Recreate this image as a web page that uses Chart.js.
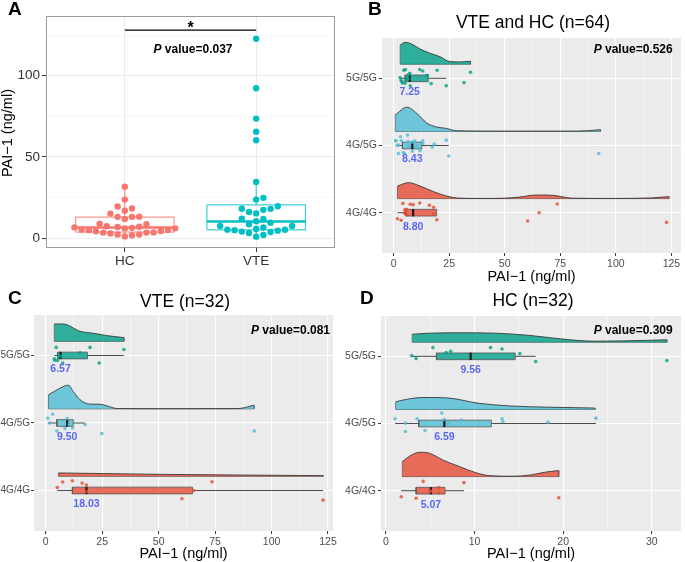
<!DOCTYPE html>
<html>
<head>
<meta charset="utf-8">
<script src="https://cdn.jsdelivr.net/npm/chart.js@4.4.1/dist/chart.umd.min.js"></script>
<style>
html,body{margin:0;padding:0;background:#fff;}
#wrap{position:relative;width:685px;height:562px;overflow:hidden;background:#fff;}
canvas{position:absolute;}
</style>
</head>
<body>
<div id="wrap">
<canvas id="cA" width="340" height="280" style="left:0px;top:0px"></canvas>
<canvas id="cC" width="340" height="282" style="left:0px;top:280px"></canvas>
<canvas id="cD" width="345" height="282" style="left:340px;top:280px"></canvas>
<canvas id="cB" width="345" height="286" style="left:340px;top:0px"></canvas>
</div>
<script>
// ================= DATA =================
const GENO = ["4G/4G", "4G/5G", "5G/5G"];       // y categories (bottom -> top)
const GROUPS_A = ["HC", "VTE"];                  // panel A categories

// ---- VTE patients (panel C), PAI-1 ng/ml
const vte_4G4G = [5.1, 7.5, 11.8, 16.1, 18.0, 18.06, 60.3, 65.5, 73.6, 122.8];
const vte_4G5G = [0.9, 1.9, 3.1, 4.9, 8.5, 9.5, 10.4, 11.9, 17.4, 24.8, 92.3];
const vte_5G5G = [3.8, 4.0, 4.6, 5.2, 5.64, 6.57, 7.5, 15.2, 19.6, 23.7, 34.6];
// vertical jitter of each point (in category steps, positive = below the line)
const vte_4G4G_jit = [-0.045, -0.125, -0.144, -0.11, -0.08, 0.015, 0.123, 0.0, -0.13, 0.143];
const vte_4G5G_jit = [-0.07, 0.0, -0.13, 0.12, 0.083, -0.065, 0.02, 0.074, 0.024, 0.157, 0.12];
const vte_5G5G_jit = [0.05, 0.07, -0.12, 0.074, 0.0, 0.01, 0.11, -0.04, -0.12, 0.11, -0.09];

// ---- healthy controls (panel D)
const hc_4G4G = [1.73, 3.4, 4.2, 4.9, 5.07, 5.96, 6.0, 8.8, 19.5];
const hc_4G5G = [1.03, 2.2, 2.2, 3.5, 4.4, 6.3, 6.59, 7.0, 8.5, 13.1, 13.2, 18.3, 23.7];
const hc_5G5G = [2.9, 3.4, 5.3, 6.8, 7.3, 11.8, 13.1, 15.1, 16.9, 31.7];
const hc_4G4G_jit = [0.09, 0.113, -0.138, 0.0, 0.01, -0.045, 0.03, -0.12, 0.104];
const hc_4G5G_jit = [-0.07, -0.006, 0.12, -0.07, 0.104, -0.155, -0.06, 0.005, -0.05, -0.07, -0.03, -0.02, -0.08];
const hc_5G5G_jit = [-0.01, 0.034, -0.13, -0.055, -0.074, -0.13, -0.108, -0.04, 0.079, 0.064];

// ---- box statistics [lower whisker, Q1, median, Q3, upper whisker]
const boxA_HC  = [1.03, 3.7, 6.5, 12.9, 31.7];
const boxA_VTE = [0.9, 5.1, 10.2, 20.5, 34.6];
const boxB_4G4G = [1.73, 5.5, 8.80, 19.4, 19.5];
const boxB_4G5G = [0.9, 4.0, 8.43, 12.7, 24.8];
const boxB_5G5G = [2.9, 5.2, 7.25, 15.6, 23.7];
const boxC_4G4G = [5.1, 11.8, 18.03, 65.0, 122.8];
const boxC_4G5G = [0.9, 4.9, 9.50, 12.2, 17.4];
const boxC_5G5G = [3.8, 5.2, 6.57, 18.5, 34.6];
const boxD_4G4G = [1.73, 3.4, 5.07, 6.67, 8.8];
const boxD_4G5G = [1.03, 3.7, 6.59, 11.9, 23.7];
const boxD_5G5G = [2.9, 5.7, 9.56, 14.6, 16.9];

// ---- half-violin density outlines [PAI-1, height in category steps]
const densB_4G4G = [[1.8,0.187],[6.7,0.237],[11.9,0.187],[17.9,0.104],[23.8,0.039],[29.8,0.006],[40,0.002],[50,0.006],[56.5,0.022],[64,0.053],[71.4,0.049],[80.4,0.006],[98,0.002],[116,0.01],[123.8,0.03]];
const densB_4G5G = [[0.8,0.247],[6.0,0.36],[10.4,0.27],[14.9,0.125],[19.4,0.065],[23.8,0.044],[28.3,0.01],[40,0.004],[60,0.003],[83.3,0.004],[89.3,0.015],[93.0,0.025]];
const densB_5G5G = [[3.0,0.287],[5.2,0.326],[8.9,0.287],[11.9,0.227],[16.4,0.163],[20.8,0.113],[25.3,0.039],[29.8,0.034],[34.6,0.044]];
const densC_4G4G = [[5.6,0.05],[49.1,0.03],[122.8,0.01]];
const densC_4G5G = [[1.2,0.208],[4.9,0.28],[8.5,0.34],[10.0,0.35],[12.2,0.257],[15.2,0.134],[19.6,0.07],[24,0.068],[27,0.045],[31.4,0.005],[50,0.002],[80,0.003],[86,0.006],[88.9,0.025],[92.2,0.055]];
const densC_5G5G = [[3.8,0.257],[7.8,0.257],[15.2,0.149],[21.1,0.119],[27,0.085],[34.6,0.055]];
const densD_4G4G = [[1.85,0.223],[2.7,0.307],[3.8,0.362],[4.9,0.348],[6.4,0.248],[8.3,0.149],[10.1,0.06],[11.6,0.015],[14.2,0.005],[16.4,0.025],[17.9,0.064],[19.5,0.089]];
const densD_4G5G = [[1.1,0.113],[2.3,0.149],[4.2,0.177],[6.8,0.172],[10.5,0.09],[14.2,0.05],[17.9,0.034],[21.6,0.025],[23.6,0.02]];
const densD_5G5G = [[2.96,0.119],[4.9,0.134],[8.6,0.14],[12.3,0.134],[16,0.104],[19.7,0.05],[23.4,0.015],[27.1,0.02],[31.7,0.035]];

// ---- ticks
const ticksA_y = [0, 50, 100];
const minorA_y = [25, 75, 125];
const ticksBC_x = [0, 25, 50, 75, 100, 125];
const minorBC_x = [12.5, 37.5, 62.5, 87.5, 112.5];
const ticksD_x = [0, 10, 20, 30];
const minorD_x = [5, 15, 25];

// ---- texts
const pValues = {A: "0.037", B: "0.526", C: "0.081", D: "0.309"};
const titles = {B: "VTE and HC (n=64)", C: "VTE (n=32)", D: "HC (n=32)"};
const AXIS_TITLE = "PAI\u22121 (ng/ml)";

// ================= STYLE =================
const FONT = "'Liberation Sans', Arial, Helvetica, sans-serif";
const GENO_FILL = ["rgba(230,75,53,0.8)", "rgba(77,187,213,0.8)", "rgba(0,160,135,0.8)"];
const A_COL = ["#F8766D", "#00BFC4"];
const A_COL_SOFT = ["rgba(248,118,109,0.75)", "rgba(0,191,196,0.75)"];
const MED_LABEL = "#5A68F0";

function tickList(major, minor) {
  return major.map(v => ({value: v})).concat(minor.map(v => ({value: v, minor: true})))
    .sort((a, b) => a.value - b.value);
}

function pText(ctx, value, xRight, y, size) {
  ctx.save();
  ctx.textBaseline = 'middle';
  ctx.textAlign = 'left';
  ctx.fillStyle = '#000';
  const f1 = "italic bold " + size + "px " + FONT;
  const f2 = "bold " + size + "px " + FONT;
  const s2 = " value=" + value;
  ctx.font = f1; const w1 = ctx.measureText("P").width;
  ctx.font = f2; const w2 = ctx.measureText(s2).width;
  const x0 = xRight - w1 - w2;
  ctx.font = f1; ctx.fillText("P", x0, y);
  ctx.font = f2; ctx.fillText(s2, x0 + w1, y);
  ctx.restore();
}
function pTextCenter(ctx, value, xc, y, size) {
  ctx.save();
  const f1 = "italic bold " + size + "px " + FONT;
  const f2 = "bold " + size + "px " + FONT;
  ctx.font = f1; const w1 = ctx.measureText("P").width;
  ctx.font = f2; const w2 = ctx.measureText(" value=" + value).width;
  ctx.restore();
  pText(ctx, value, xc + (w1 + w2) / 2, y, size);
}
function text(ctx, s, x, y, font, color, align, baseline) {
  ctx.save();
  ctx.font = font; ctx.fillStyle = color || '#000';
  ctx.textAlign = align || 'center'; ctx.textBaseline = baseline || 'middle';
  ctx.fillText(s, x, y);
  ctx.restore();
}

Chart.defaults.font.family = FONT;

// ================= RAINCLOUD PANELS =================
function rainDatasets(groups) {
  const ds = [];
  const hh = 0.05, off = 0.21;
  groups.forEach(g => {
    const c = g.cat, col = GENO_FILL[c - 1], base = c + off;
    const [lo, q1, med, q3, hi] = g.box;
    ds.push({data: g.vals.map((v, i) => ({x: v, y: c - g.jit[i]})), showLine: false,
      pointRadius: 1.8, pointBackgroundColor: col, pointBorderWidth: 0, order: 0});
    ds.push({data: [{x: med, y: c - hh - 0.004}, {x: med, y: c + hh + 0.004}],
      borderColor: '#1a1a1a', borderWidth: 2.2, order: 1});
    ds.push({data: [{x: q1, y: c - hh}, {x: q3, y: c - hh}, {x: q3, y: c + hh}, {x: q1, y: c + hh}, {x: q1, y: c - hh}],
      borderColor: '#555', borderWidth: 0.8, order: 2});
    ds.push({data: [{x: q1, y: c + hh}, {x: q3, y: c + hh}], fill: {value: c - hh},
      backgroundColor: col, borderColor: 'rgba(0,0,0,0)', borderWidth: 0, order: 3});
    ds.push({data: [{x: lo, y: c}, {x: q1, y: c}], borderColor: '#4d4d4d', borderWidth: 1, order: 4});
    ds.push({data: [{x: q3, y: c}, {x: hi, y: c}], borderColor: '#4d4d4d', borderWidth: 1, order: 4});
    ds.push({data: g.dens.map(p => ({x: p[0], y: base + p[1]})), cubicInterpolationMode: 'monotone',
      fill: {value: base}, backgroundColor: col, borderColor: '#3a3a3a', borderWidth: 0.9, order: 5});
    const d0 = g.dens[0], d1 = g.dens[g.dens.length - 1];
    ds.push({data: [{x: d1[0], y: base + d1[1]}, {x: d1[0], y: base}, {x: d0[0], y: base}, {x: d0[0], y: base + d0[1]}],
      borderColor: '#4a4a4a', borderWidth: 0.8, order: 5});
  });
  return ds;
}

function makeRain(id, cfg) {
  const plug = {
    id: 'rain' + id,
    beforeDraw(chart) {
      const {ctx, chartArea: a} = chart;
      ctx.save(); ctx.fillStyle = '#EBEBEB';
      ctx.fillRect(a.left, a.top, a.right - a.left, a.bottom - a.top); ctx.restore();
    },
    afterDraw(chart) {
      const {ctx, chartArea: a, scales: {x, y}} = chart;
      cfg.groups.forEach(g => {
        text(ctx, g.box[2].toFixed(2), x.getPixelForValue(g.box[2]), y.getPixelForValue(g.cat - 0.208),
          "bold 10.5px " + FONT, MED_LABEL);
      });
      pText(ctx, cfg.p, cfg.pX, cfg.pY, 12);
      text(ctx, cfg.title, cfg.titleX, cfg.titleY, "17.5px " + FONT, '#000');
      text(ctx, cfg.letter, cfg.letterX, cfg.letterY, "bold 19px " + FONT, '#000', 'left', 'alphabetic');
      text(ctx, AXIS_TITLE, (a.left + a.right) / 2, cfg.axisTitleY, "14.5px " + FONT, '#000');
    }
  };
  return new Chart(document.getElementById(id), {
    type: 'line',
    data: {datasets: rainDatasets(cfg.groups)},
    options: {
      responsive: false, animation: false, events: [],
      layout: {padding: cfg.padding},
      elements: {point: {radius: 0}, line: {tension: 0}},
      plugins: {legend: {display: false}, tooltip: {enabled: false}, title: {display: false}},
      scales: {
        x: {
          type: 'linear', min: cfg.xMin, max: cfg.xMax, bounds: 'data',
          afterBuildTicks: s => { s.ticks = tickList(cfg.xTicks, cfg.xMinor); },
          afterFit: s => { s.height = cfg.xH; },
          ticks: {autoSkip: false, maxRotation: 0, padding: 2, color: '#4D4D4D', font: {size: 10.5},
            callback: (v, i, t) => (t[i] && t[i].minor) ? '' : String(v)},
          grid: {color: '#FFFFFF', lineWidth: c => (c.tick && c.tick.minor) ? 0.55 : 1.1,
            tickColor: c => (c.tick && c.tick.minor) ? 'rgba(0,0,0,0)' : '#333333', tickLength: 3, tickWidth: 1},
          border: {display: false}
        },
        y: {
          type: 'linear', min: 0.4, max: 3.6, bounds: 'data',
          afterBuildTicks: s => { s.ticks = [1, 2, 3].map(v => ({value: v})); },
          afterFit: s => { s.width = cfg.yW; },
          ticks: {autoSkip: false, padding: cfg.yPad, color: '#4D4D4D', font: {size: cfg.yFont}, callback: v => GENO[v - 1]},
          grid: {color: '#FFFFFF', lineWidth: 1.1, tickColor: '#333333', tickLength: 3, tickWidth: 1},
          border: {display: false}
        }
      }
    },
    plugins: [plug]
  });
}

makeRain('cB', {
  groups: [
    {cat: 1, vals: vte_4G4G.concat(hc_4G4G), jit: vte_4G4G_jit.concat(hc_4G4G_jit), box: boxB_4G4G, dens: densB_4G4G},
    {cat: 2, vals: vte_4G5G.concat(hc_4G5G), jit: vte_4G5G_jit.concat(hc_4G5G_jit), box: boxB_4G5G, dens: densB_4G5G},
    {cat: 3, vals: vte_5G5G.concat(hc_5G5G), jit: vte_5G5G_jit.concat(hc_5G5G_jit), box: boxB_5G5G, dens: densB_5G5G}
  ],
  xMin: -5.2, xMax: 129.3, xTicks: ticksBC_x, xMinor: minorBC_x,
  padding: {top: 38, right: 2, bottom: 0, left: 0}, yW: 42, xH: 33, yPad: 2, yFont: 10.5,
  p: pValues.B, pX: 332.7, pY: 50,
  title: titles.B, titleX: 193, titleY: 23,
  letter: "B", letterX: 28, letterY: 15, axisTitleY: 277
});
makeRain('cC', {
  groups: [
    {cat: 1, vals: vte_4G4G, jit: vte_4G4G_jit, box: boxC_4G4G, dens: densC_4G4G},
    {cat: 2, vals: vte_4G5G, jit: vte_4G5G_jit, box: boxC_4G5G, dens: densC_4G5G},
    {cat: 3, vals: vte_5G5G, jit: vte_5G5G_jit, box: boxC_5G5G, dens: densC_5G5G}
  ],
  xMin: -5.2, xMax: 127.2, xTicks: ticksBC_x, xMinor: minorBC_x,
  padding: {top: 35, right: 7, bottom: 0, left: 0}, yW: 34, xH: 31, yPad: 1, yFont: 10,
  p: pValues.C, pX: 330, pY: 51,
  title: titles.C, titleX: 185, titleY: 22,
  letter: "C", letterX: 8, letterY: 24, axisTitleY: 274
});
makeRain('cD', {
  groups: [
    {cat: 1, vals: hc_4G4G, jit: hc_4G4G_jit, box: boxD_4G4G, dens: densD_4G4G},
    {cat: 2, vals: hc_4G5G, jit: hc_4G5G_jit, box: boxD_4G5G, dens: densD_4G5G},
    {cat: 3, vals: hc_5G5G, jit: hc_5G5G_jit, box: boxD_5G5G, dens: densD_5G5G}
  ],
  xMin: -0.56, xMax: 33.3, xTicks: ticksD_x, xMinor: minorD_x,
  padding: {top: 36, right: 0, bottom: 0, left: 0}, yW: 41, xH: 31, yPad: 2, yFont: 10.5,
  p: pValues.D, pX: 332.7, pY: 51,
  title: titles.D, titleX: 193, titleY: 21,
  letter: "D", letterX: 20, letterY: 24, axisTitleY: 274
});

// ================= PANEL A =================
const hcAll = hc_4G4G.concat(hc_4G5G, hc_5G5G);
const vteAll = vte_4G4G.concat(vte_4G5G, vte_5G5G);
const A_YMIN = -6.1, A_YMAX = 136.8;
const X_PX = 289 / 2.2, Y_PX = 232 / (A_YMAX - A_YMIN);

function swarm(values, d) {
  const idx = values.map((v, i) => i).sort((a, b) => values[a] - values[b]);
  const placed = [];
  const off = new Array(values.length).fill(0);
  for (const i of idx) {
    const yp = values[i] * Y_PX;
    for (let k = 0; k < 80; k++) {
      const cand = (k === 0 ? 0 : (k % 2 ? 1 : -1) * Math.ceil(k / 2)) * d * 0.5;
      if (placed.every(p => (p.x - cand) ** 2 + (p.y - yp) ** 2 >= d * d)) {
        off[i] = cand; placed.push({x: cand, y: yp}); break;
      }
    }
  }
  return off.map(o => o / X_PX);
}

function aDatasets() {
  const ds = [];
  [[hcAll, boxA_HC], [vteAll, boxA_VTE]].forEach((pair, k) => {
    const c = k + 1, vals = pair[0], [lo, q1, med, q3, hi] = pair[1], w = 0.375;
    const off = swarm(vals, 7.2);
    ds.push({data: vals.map((v, i) => ({x: c + off[i], y: v})), showLine: false, pointRadius: 3.2,
      pointBackgroundColor: A_COL[k], pointBorderWidth: 0, order: 0});
    ds.push({data: [{x: c - w, y: med}, {x: c + w, y: med}], borderColor: A_COL[k], borderWidth: 2.4, order: 1});
    ds.push({data: [{x: c - w, y: q1}, {x: c + w, y: q1}, {x: c + w, y: q3}, {x: c - w, y: q3}, {x: c - w, y: q1}],
      borderColor: A_COL_SOFT[k], borderWidth: 1.2, order: 2});
    ds.push({data: [{x: c, y: lo}, {x: c, y: q1}], borderColor: A_COL_SOFT[k], borderWidth: 1.2, order: 2});
    ds.push({data: [{x: c, y: q3}, {x: c, y: hi}], borderColor: A_COL_SOFT[k], borderWidth: 1.2, order: 2});
  });
  return ds;
}

const sigBarValue = 128.1;
const plugA = {
  id: 'plugA',
  afterDraw(chart) {
    const {ctx, chartArea: a, scales: {x, y}} = chart;
    ctx.save();
    ctx.strokeStyle = '#9a9a9a'; ctx.lineWidth = 1;
    ctx.strokeRect(a.left + 0.5, a.top + 0.5, a.right - a.left - 1, a.bottom - a.top - 1);
    const yb = y.getPixelForValue(sigBarValue);
    ctx.strokeStyle = '#000'; ctx.lineWidth = 1.1;
    ctx.beginPath(); ctx.moveTo(x.getPixelForValue(1), yb); ctx.lineTo(x.getPixelForValue(2), yb); ctx.stroke();
    ctx.restore();
    text(ctx, "*", (x.getPixelForValue(1) + x.getPixelForValue(2)) / 2, yb + 3, "bold 16px " + FONT, '#000', 'center', 'alphabetic');
    pTextCenter(ctx, pValues.A, 193, 50, 12);
    text(ctx, "A", 8, 15, "bold 19px " + FONT, '#000', 'left', 'alphabetic');
    ctx.save();
    ctx.translate(7.5, 133); ctx.rotate(-Math.PI / 2);
    text(ctx, AXIS_TITLE, 0, 0, "14.5px " + FONT, '#000');
    ctx.restore();
  }
};

new Chart(document.getElementById('cA'), {
  type: 'line',
  data: {datasets: aDatasets()},
  options: {
    responsive: false, animation: false, events: [],
    layout: {padding: {top: 16, right: 5, bottom: 0, left: 0}},
    elements: {point: {radius: 0}, line: {tension: 0}},
    plugins: {legend: {display: false}, tooltip: {enabled: false}},
    scales: {
      x: {
        type: 'linear', min: 0.4, max: 2.6, bounds: 'data',
        afterBuildTicks: s => { s.ticks = [1, 2].map(v => ({value: v})); },
        afterFit: s => { s.height = 32; },
        ticks: {autoSkip: false, maxRotation: 0, padding: 1, color: '#333', font: {size: 13.5}, callback: v => GROUPS_A[v - 1]},
        grid: {color: '#EBEBEB', lineWidth: 1.1, tickColor: '#333', tickLength: 4, tickWidth: 1},
        border: {display: false}
      },
      y: {
        type: 'linear', min: A_YMIN, max: A_YMAX, bounds: 'data',
        afterBuildTicks: s => { s.ticks = tickList(ticksA_y, minorA_y); },
        afterFit: s => { s.width = 46; },
        ticks: {autoSkip: false, padding: 2, color: '#333', font: {size: 13.5},
          callback: (v, i, t) => (t[i] && t[i].minor) ? '' : String(v)},
        grid: {color: c => (c.tick && c.tick.minor) ? '#F2F2F2' : '#EBEBEB', lineWidth: c => (c.tick && c.tick.minor) ? 0.6 : 1.1,
          tickColor: c => (c.tick && c.tick.minor) ? 'rgba(0,0,0,0)' : '#333', tickLength: 4, tickWidth: 1},
        border: {display: false}
      }
    }
  },
  plugins: [plugA]
});
</script>
</body>
</html>
